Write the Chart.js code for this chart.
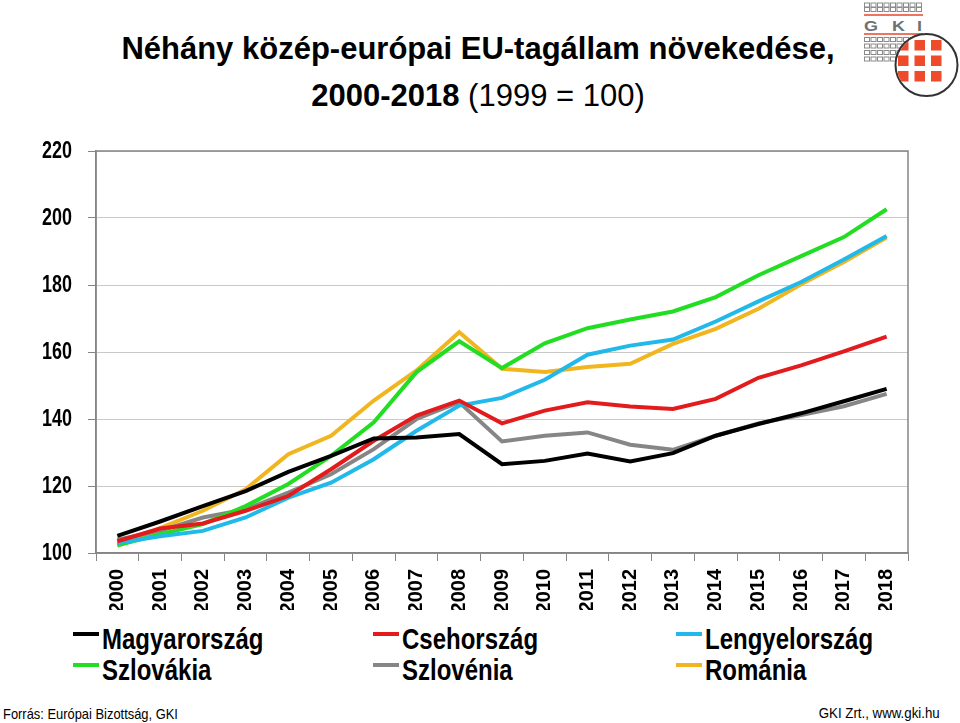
<!DOCTYPE html>
<html lang="hu">
<head>
<meta charset="utf-8">
<title>Néhány közép-európai EU-tagállam növekedése</title>
<script src="https://cdn.jsdelivr.net/npm/chart.js@4.4.1/dist/chart.umd.min.js"></script>
<style>
  html, body { margin: 0; padding: 0; background: #fff; }
  body { width: 960px; height: 723px; position: relative; overflow: hidden;
         font-family: "Liberation Sans", Arial, sans-serif; color: #000; }
  .cim { position: absolute; left: 0; width: 956px; text-align: center; font-size: 31px; line-height: 31px; white-space: nowrap; }
  #cim1 { top: 33px; font-weight: bold; }
  #cim2 { top: 80px; }
  #grafikon { position: absolute; left: 0; top: 130px; width: 960px; height: 490px; }
  .jelmagyarazat { position: absolute; display: flex; align-items: center; font-size: 30px; line-height: 30px; font-weight: bold; white-space: nowrap; }
  .jelmagyarazat span.vonal { display: inline-block; width: 26px; height: 4px; margin-right: 3px; position: relative; top: -5px; }
  .jelmagyarazat span.szoveg { display: inline-block; transform-origin: 0 50%; }
  .lab { position: absolute; font-size: 15px; line-height: 15px; white-space: nowrap; }
  #forras { left: 3px; top: 706px; transform-origin: 0 0; }
  #gki { right: 20px; top: 705px; transform-origin: 100% 0; }
  #logo { position: absolute; left: 862px; top: 0; }
</style>
</head>
<body>
<div class="cim" id="cim1">Néhány közép-európai EU-tagállam növekedése,</div>
<div class="cim" id="cim2"><b>2000-2018</b> (1999 = 100)</div>

<svg id="logo" width="98" height="100" viewBox="0 0 98 100"></svg>

<canvas id="grafikon"></canvas>
<div id="jelmagyarazat"></div>

<div class="lab" id="forras">Forrás: Európai Bizottság, GKI</div>
<div class="lab" id="gki">GKI Zrt., www.gki.hu</div>

<script>
// évek
const evek = ['2000', '2001', '2002', '2003', '2004', '2005', '2006', '2007', '2008', '2009',
              '2010', '2011', '2012', '2013', '2014', '2015', '2016', '2017', '2018'];

// országok adatai (1999 = 100)
const magyarorszag = [105.1, 109.4, 114.0, 118.5, 124.2, 129.0, 134.2, 134.5, 135.5, 126.5,
                      127.5, 129.7, 127.3, 129.8, 135.0, 138.5, 141.7, 145.3, 149.0];
const csehorszag = [103.5, 107.3, 108.8, 112.6, 117.0, 125.0, 133.5, 141.0, 145.5, 138.7,
                    142.5, 145.0, 143.7, 143.0, 146.0, 152.3, 156.0, 160.2, 164.6];
const lengyelorszag = [103.0, 105.0, 106.6, 110.6, 116.5, 121.0, 128.0, 136.5, 144.0, 146.3,
                       151.7, 159.2, 161.9, 163.7, 169.1, 175.1, 180.9, 187.6, 194.6];
const szlovakia = [102.3, 105.6, 108.6, 114.0, 120.6, 129.0, 139.0, 154.0, 163.2, 155.2,
                   162.6, 167.1, 169.7, 172.1, 176.4, 182.9, 188.6, 194.3, 202.6];
const szlovenia = [104.0, 106.6, 110.6, 113.0, 118.0, 123.5, 131.0, 140.0, 145.0, 133.3,
                   135.0, 136.0, 132.3, 130.8, 135.0, 138.7, 141.2, 143.8, 147.5];
const romania = [102.1, 107.4, 112.6, 119.0, 129.5, 135.0, 145.5, 154.5, 165.9, 155.0,
                 154.0, 155.5, 156.5, 162.4, 166.9, 172.9, 180.2, 186.9, 194.2];

// y tengely
const yMin = 100;
const yMax = 220;
const yLepes = 20;

function sorozat(nev, adat, szin) {
    return {
        label: nev,
        data: adat,
        borderColor: szin,
        backgroundColor: szin,
        borderWidth: 4,
        pointRadius: 0,
        tension: 0,
        fill: false
    };
}

// keret a rajzterület körül + keskenyített y feliratok
const keret = {
    id: 'keret',
    afterDraw(chart) {
        const { ctx, chartArea: a } = chart;
        ctx.save();
        ctx.strokeStyle = '#858585';
        ctx.lineWidth = 1.5;
        ctx.strokeRect(a.left, a.top, a.right - a.left, a.bottom - a.top);

        // y tengely feliratai (Arial Narrow hatás)
        const y = chart.scales.y;
        ctx.fillStyle = '#000';
        ctx.font = 'bold 23px "Liberation Sans", Arial, sans-serif';
        ctx.textAlign = 'right';
        ctx.textBaseline = 'middle';
        y.ticks.forEach(t => {
            const py = y.getPixelForValue(t.value);
            ctx.save();
            ctx.translate(a.left - 24, py + 1);
            ctx.scale(0.78, 1);
            ctx.fillText(String(t.value), 0, 0);
            ctx.restore();
        });
        ctx.restore();
    }
};

const grafikon = new Chart(document.getElementById('grafikon'), {
    type: 'line',
    data: {
        labels: evek,
        datasets: [
            sorozat('Magyarország', magyarorszag, '#000000'),
            sorozat('Csehország', csehorszag, '#e31b1d'),
            sorozat('Lengyelország', lengyelorszag, '#20b9ea'),
            sorozat('Szlovákia', szlovakia, '#22dd22'),
            sorozat('Szlovénia', szlovenia, '#868686'),
            sorozat('Románia', romania, '#f1b520')
        ]
    },
    options: {
        responsive: false,
        animation: false,
        layout: { padding: { top: 21, right: 52, left: 0, bottom: 0 } },
        plugins: {
            legend: { display: false },
            title: { display: false },
            tooltip: { enabled: false }
        },
        scales: {
            x: {
                offset: true,
                grid: {
                    offset: true,
                    drawOnChartArea: false,
                    drawTicks: true,
                    tickLength: 8,
                    tickColor: '#858585'
                },
                border: { color: '#858585', width: 1.5 },
                ticks: {
                    minRotation: 90,
                    maxRotation: 90,
                    padding: 8,
                    color: '#000',
                    font: { family: '"Liberation Sans", Arial, sans-serif', size: 20, weight: 'bold' }
                },
                afterFit(scale) { scale.height = 57; }
            },
            y: {
                min: yMin,
                max: yMax,
                grid: {
                    color: '#c9c9c9',
                    lineWidth: 1,
                    borderDash: [2, 2],
                    tickBorderDash: [],
                    tickColor: '#858585',
                    tickLength: 8
                },
                border: { color: '#858585', width: 1.5 },
                ticks: {
                    stepSize: yLepes,
                    display: false
                },
                afterFit(scale) { scale.width = 96; }
            }
        }
    },
    plugins: [keret]
});

// szöveg vízszintes összenyomása adott szélességre
function szelessegre(el, cel) {
    const w = el.getBoundingClientRect().width;
    if (w > 0) el.style.transform = 'scaleX(' + (cel / w).toFixed(3) + ')';
}

// jelmagyarázat három oszlopban, két sorban
const oszlopX = [73, 373, 676];
const sorY = [624, 655];
const jm = document.getElementById('jelmagyarazat');
grafikon.data.datasets.forEach((ds, i) => {
    const d = document.createElement('div');
    d.className = 'jelmagyarazat';
    d.style.left = oszlopX[i % 3] + 'px';
    d.style.top = sorY[Math.floor(i / 3)] + 'px';
    const v = document.createElement('span');
    v.className = 'vonal';
    v.style.background = ds.borderColor;
    d.appendChild(v);
    const s = document.createElement('span');
    s.className = 'szoveg';
    s.textContent = ds.label;
    d.appendChild(s);
    jm.appendChild(d);
    s.style.transform = 'scaleX(0.8)';
});

szelessegre(document.getElementById('forras'), 175);
szelessegre(document.getElementById('gki'), 121);

// GKI logó
(function () {
    const ns = 'http://www.w3.org/2000/svg';
    const svg = document.getElementById('logo');
    function el(nev, attr, szulo) {
        const e = document.createElementNS(ns, nev);
        for (const k in attr) e.setAttribute(k, attr[k]);
        (szulo || svg).appendChild(e);
        return e;
    }
    const negyzetSorok = [3, 7.5, 37.5, 44, 50.5, 57];
    negyzetSorok.forEach(y => {
        for (let c = 0; c < 9; c++) {
            el('rect', { x: 2.5 + c * 6.5, y: y, width: 5, height: 4, fill: 'none', stroke: '#8a8a8a', 'stroke-width': 1 });
        }
    });
    el('line', { x1: 2, y1: 15, x2: 61, y2: 15, stroke: '#e8462b', 'stroke-width': 1.5 });
    el('line', { x1: 2, y1: 34, x2: 61, y2: 34, stroke: '#e8462b', 'stroke-width': 1.5 });
    [['G', 2, 14], ['K', 30, 13], ['I', 55, 5]].forEach(([b, x, sz]) => {
        const t = el('text', { x: x, y: 31, fill: '#707070', 'font-family': 'Liberation Sans, Arial, sans-serif',
                              'font-weight': 'bold', 'font-size': 14.5, textLength: sz, lengthAdjust: 'spacingAndGlyphs' });
        t.textContent = b;
    });
    el('circle', { cx: 64.5, cy: 65, r: 31, fill: '#fff', stroke: '#333', 'stroke-width': 2 });
    const defs = el('defs', {});
    const cp = el('clipPath', { id: 'kor' }, defs);
    el('circle', { cx: 64.5, cy: 65, r: 30 }, cp);
    const g = el('g', { 'clip-path': 'url(#kor)' });
    for (let r = 0; r < 3; r++) {
        for (let c = 0; c < 3; c++) {
            el('rect', { x: 36 + c * 16.5, y: 40 + r * 15.5, width: 10.5, height: 10.5, fill: '#ef4b2a' }, g);
        }
    }
})();
</script>
</body>
</html>
